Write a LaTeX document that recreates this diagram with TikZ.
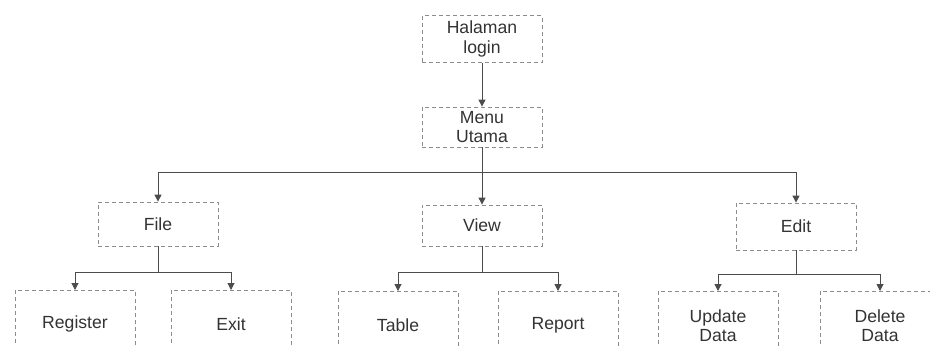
\documentclass[tikz,border=0pt]{standalone}
\usepackage{fontspec}
\setmainfont{Liberation Sans}
\usetikzlibrary{arrows.meta}

\begin{document}
\begin{tikzpicture}[x=0.5pt,y=-0.5pt,
    menubox/.style={draw=black!45,dashed,dash pattern=on 2pt off 1.5pt,text=black!80,
      align=center,minimum width=60pt,inner sep=1pt,font=\fontsize{8.8}{9.6}\selectfont},
    link/.style={draw=black!70,line width=0.5pt},
    tip/.style={link,-{Triangle[width=3.5pt,length=3.5pt]}}]
\useasboundingbox (0,0) rectangle (930,345);
\clip (0,0) rectangle (930,345);
% top of the menu tree
\node[menubox,minimum height=23.5pt] (login) at (482,39) {Halaman\\login};
\node[menubox,minimum height=20pt] (utama) at (482,127) {Menu\\Utama};
\node[menubox,minimum height=22pt] (file) at (158,224) {File};
\node[menubox,minimum height=20.5pt] (view) at (482,225.5) {View};
\node[menubox,minimum height=23.5pt] (edit) at (796,226.5) {Edit};
% sub menus, cut at the lower edge
\node[menubox,anchor=north,minimum height=34pt] (register) at (75,290) {Register};
\node[menubox,anchor=north,minimum height=34pt] (exit) at (231,290) {Exit};
\node[menubox,anchor=north,minimum height=34pt] (table) at (398,291) {Table};
\node[menubox,anchor=north,minimum height=34pt] (report) at (558,291) {Report};
\node[menubox,anchor=north,minimum height=34pt] (update) at (718,291) {Update\\Data};
\node[menubox,anchor=north,minimum height=34pt] (delete) at (880,291) {Delete\\Data};

\coordinate (bus) at (482,172);
\coordinate (busfile) at (482,272);
\coordinate (busedit) at (796,274);

\draw[tip] (login.south) -- (utama.north);
\draw[link] (file.north |- bus) -- (edit.north |- bus);
\draw[tip] (utama.south) -- (view.north);
\draw[tip] (file.north |- bus) -- (file.north);
\draw[tip] (edit.north |- bus) -- (edit.north);

\draw[link] (file.south) -- (file.south |- busfile);
\draw[link] (register.north |- busfile) -- (exit.north |- busfile);
\draw[tip] (register.north |- busfile) -- (register.north);
\draw[tip] (exit.north |- busfile) -- (exit.north);

\draw[link] (view.south) -- (view.south |- busfile);
\draw[link] (table.north |- busfile) -- (report.north |- busfile);
\draw[tip] (table.north |- busfile) -- (table.north);
\draw[tip] (report.north |- busfile) -- (report.north);

\draw[link] (edit.south) -- (busedit);
\draw[link] (update.north |- busedit) -- (delete.north |- busedit);
\draw[tip] (update.north |- busedit) -- (update.north);
\draw[tip] (delete.north |- busedit) -- (delete.north);
\end{tikzpicture}
\end{document}
